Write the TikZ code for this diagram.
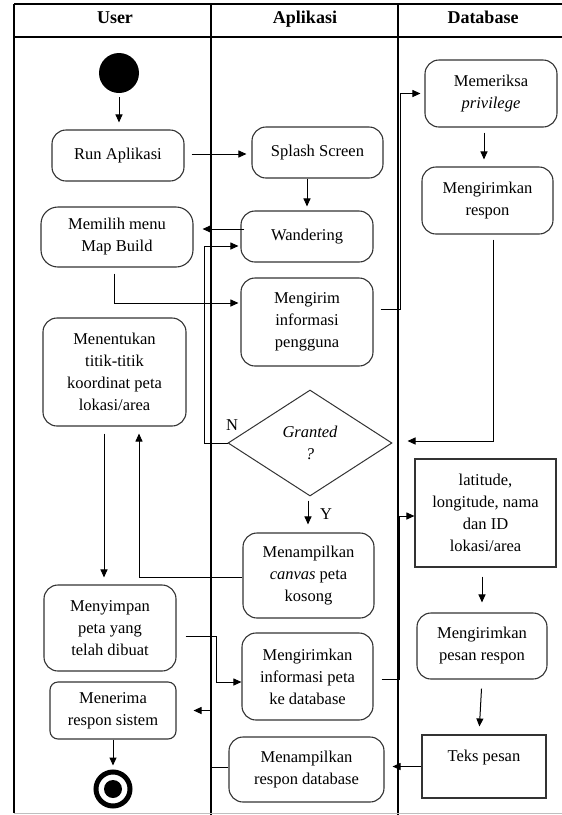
\documentclass[tikz,border=0pt]{standalone}
\usepackage{fontspec}
\setmainfont{Liberation Serif}
\usetikzlibrary{arrows.meta,shapes.geometric,calc}

\begin{document}
\begin{tikzpicture}[x=1pt,y=-1pt,
  every node/.style={font=\fontsize{16.5}{22}\selectfont, align=center, inner sep=0pt},
  act/.style={draw=black!80, line width=1.1pt, rounded corners=14pt},
  datum/.style={draw=black!80, line width=1.1pt},
  flow/.style={line width=1pt, -{Triangle[length=8pt,width=7pt]}},
  lane/.style={line width=1.3pt},
  head/.style={font=\fontsize{18}{22}\selectfont\bfseries, text height=12.5pt, text depth=3.5pt}
]
\useasboundingbox (0,0) rectangle (562,815);

% swimlane frame
\draw[lane] (14,4) -- (562,4);
\draw[lane] (14,37) -- (562,37);
\draw[lane] (14,4) -- (14,813);
\draw[lane] (211,4) -- (211,815);
\draw[lane] (398,4) -- (398,815);
\draw[black!25, line width=1pt] (14,813) -- (562,813);

\node[head] (hUser) at (115,19) {User};
\node[head] (hApp) at (305,19) {Aplikasi};
\node[head] (hDb) at (483,19) {Database};

% User lane
\node[circle, fill=black, minimum size=40pt] (start) at (119,73) {};
\node[act, minimum width=132pt, minimum height=51pt] (run) at (118,155.5) {Run Aplikasi};
\node[act, rounded corners=17pt, minimum width=152pt, minimum height=60pt] (menu) at (117,237) {Memilih menu\\Map Build};
\node[act, minimum width=143pt, minimum height=108pt] (plot) at (114.5,372) {Menentukan\\titik-titik\\koordinat peta\\lokasi/area};
\node[act, minimum width=132pt, minimum height=86pt] (save) at (110,628) {Menyimpan\\peta yang\\telah dibuat};
\node[act, rounded corners=8pt, minimum width=126pt, minimum height=57pt] (receive) at (113,710.5) {Menerima\\respon sistem};
\node[circle, draw, line width=5pt, minimum size=34pt] (finish) at (113,789) {};
\fill (finish.center) circle (9pt);

% Aplikasi lane
\node[act, minimum width=131pt, minimum height=51pt] (splash) at (317.5,152.5) {Splash Screen};
\node[act, minimum width=132pt, minimum height=51pt] (wander) at (307,236.5) {Wandering};
\node[act, minimum width=132pt, minimum height=88pt] (info) at (307,322) {Mengirim\\informasi\\pengguna};
\node[diamond, draw=black!80, line width=1pt, minimum width=164pt, minimum height=106pt, font=\fontsize{16.5}{22}\selectfont\itshape] (granted) at (310,443) {Granted\\?};
\node[act, minimum width=131pt, minimum height=85pt] (canvas) at (308.5,575.5) {Menampilkan\\\textit{canvas} peta\\kosong};
\node[act, minimum width=131pt, minimum height=87pt] (mapinfo) at (307.5,676.5) {Mengirimkan\\informasi peta\\ke database};
\node[act, minimum width=155pt, minimum height=65pt] (showdb) at (306.5,769.5) {Menampilkan\\respon database};

% Database lane
\node[act, minimum width=132pt, minimum height=67pt] (check) at (491,93.5) {Memeriksa\\\textit{privilege}};
\node[act, minimum width=131pt, minimum height=67pt] (respon) at (487.5,200.5) {Mengirimkan\\respon};
\node[datum, minimum width=141pt, minimum height=108pt] (coords) at (485.5,513) {latitude,\\longitude, nama\\dan ID\\lokasi/area};
\node[act, minimum width=130pt, minimum height=66pt] (msg) at (482,646) {Mengirimkan\\pesan respon};
\node[datum, minimum width=124pt, minimum height=63pt] (text) at (484,766.5) {Teks pesan\\\mbox{}};

% guard labels
\node (lblN) at (232,425) {N};
\node (lblY) at (326,514) {Y};

% bend points
\coordinate (jInfo) at (400,309);
\coordinate (nBend) at (204,443);
\coordinate (saveBend) at (216,636);
\coordinate (mapBend) at (399,679);
\coordinate (dbBend) at (211,767);

% control flow
\draw[flow, shorten <=4pt, shorten >=7pt] (start.south) -- (start.south |- run.north);
\draw[flow, shorten <=7pt, shorten >=5pt] ($(run.east)+(0,-1.5)$) -- ($(splash.west)+(0,1.5)$);
\draw[flow, shorten >=4pt] (wander.north |- splash.south) -- (wander.north);
\draw[flow, shorten <=-4pt, shorten >=9pt] ($(wander.west)+(0,-7.5)$) -- ($(menu.east)+(0,-8)$);
\draw[flow, shorten <=6pt, shorten >=2pt] ($(menu.south)+(-3,0)$) |- ($(info.west)+(0,-19)$);
\draw[flow, shorten <=7pt, shorten >=4pt] ($(info.east)+(0,-13)$) -- (jInfo) |- (check.west);
\draw[flow, shorten <=5pt, shorten >=7pt] ($(check.south)+(-7,0)$) -- ($(respon.north)+(-3.5,0)$);
\draw[flow, shorten <=5pt, shorten >=15pt] ($(respon.south)+(5.5,0)$) |- ($(granted.east)+(0,-2)$);
\draw[flow, shorten >=2pt] (granted.west) -- (nBend) |- ($(wander.west)+(0,9.5)$);
\draw[flow, shorten <=4pt, shorten >=8pt] ($(granted.south)+(-2,0)$) -- ($(canvas.north)+(-0.5,0)$);
\draw[flow, shorten >=7pt] ($(canvas.west)+(0,1.5)$) -| ($(plot.south)+(24.5,0)$);
\draw[flow, shorten <=7pt, shorten >=7pt] ($(plot.south)+(-10.5,0)$) -- ($(save.north)+(-6,0)$);
\draw[flow, shorten <=9pt] ($(save.east)+(0,8)$) -- (saveBend) |- ($(mapinfo.west)+(0,5.5)$);
\draw[flow, shorten <=8pt] ($(mapinfo.east)+(0,2.5)$) -- (mapBend) |- ($(coords.west)+(0,3)$);
\draw[flow, shorten <=9pt, shorten >=10pt] ($(coords.south)+(-3.5,0)$) -- (msg.north);
\draw[flow, shorten <=9pt, shorten >=8pt] (msg.south) -- ($(text.north)+(-5,0)$);
\draw[flow, shorten >=8pt] (text.west) -- ($(showdb.east)+(0,-3)$);
\draw[flow, shorten >=17pt] ($(showdb.west)+(0,-2.5)$) -- (dbBend) |- (receive.east);
\draw[flow, shorten >=4pt] (receive.south) -- (finish.north);
\end{tikzpicture}
\end{document}
